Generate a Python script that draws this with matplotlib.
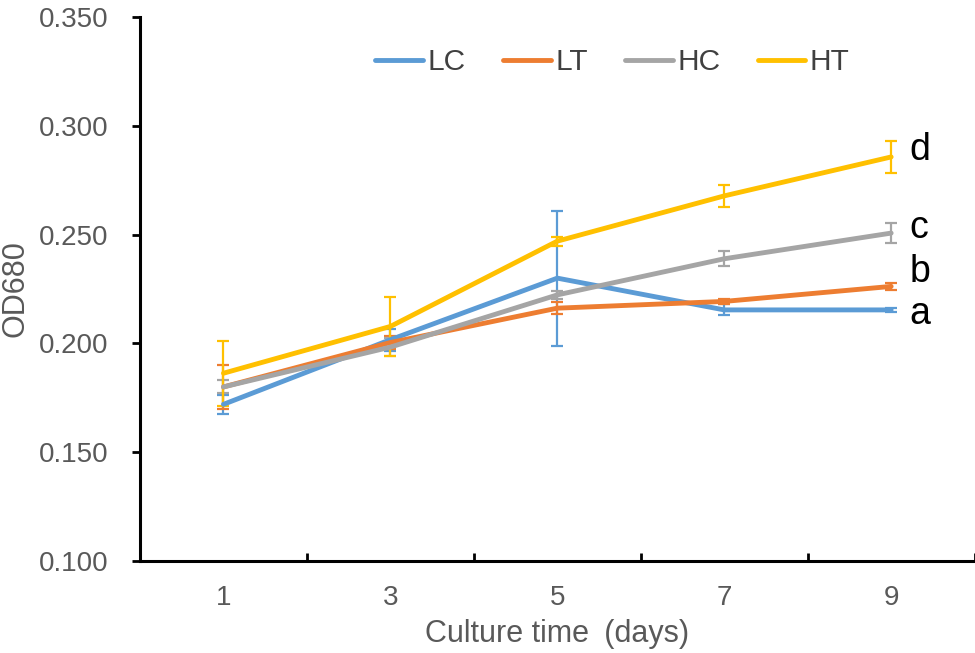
import numpy as np
import matplotlib.pyplot as plt
from matplotlib.lines import Line2D

plt.rcParams['font.family'] = ['Liberation Sans', 'DejaVu Sans']

days = ['1', '3', '5', '7', '9']
series = ['LC', 'LT', 'HC', 'HT']
colors = ['#5B9BD5', '#ED7D31', '#A5A5A5', '#FFC000']

lc = [0.172, 0.2017, 0.230, 0.2154, 0.2154]
lt = [0.180, 0.2004, 0.2162, 0.2193, 0.2262]
hc = [0.180, 0.1983, 0.2223, 0.2389, 0.2507]
ht = [0.1863, 0.2078, 0.2470, 0.2678, 0.2857]

lc_err = [0.0045, 0.0050, 0.0310, 0.0025, 0.0010]
lt_err = [0.0100, 0.0030, 0.0027, 0.0010, 0.0015]
hc_err = [0.0030, 0.0040, 0.0020, 0.0035, 0.0045]
ht_err = [0.0150, 0.0137, 0.0020, 0.0050, 0.0074]

sig_letters = ['a', 'b', 'c', 'd']
sig_y = [0.2133, 0.2330, 0.2531, 0.2890]

values = [lc, lt, hc, ht]
errors = [lc_err, lt_err, hc_err, ht_err]

fig = plt.figure(figsize=(9.75, 6.53), dpi=100)
ax = fig.add_axes([0.1436, 0.1409, 0.856, 0.833])

x = np.arange(len(days)) + 0.5
for name, vals, errs, c in zip(series, values, errors, colors):
    ax.errorbar(x, vals, yerr=errs, color=c, lw=3.5, elinewidth=1.6,
                capsize=4.5, capthick=1.6, solid_capstyle='round')

for letter, yy in zip(sig_letters, sig_y):
    ax.text(4.61, yy, letter, fontsize=27, va='center', ha='left', color='black')

ax.set_xlim(0, 5)
ax.set_ylim(0.100, 0.350)
ax.set_yticks(np.arange(0.100, 0.351, 0.050))
ax.set_yticklabels(['%.3f' % v for v in np.arange(0.100, 0.351, 0.050)])
ax.set_xticks(x)
ax.set_xticklabels(days)
ax.set_xticks(np.arange(0, 6), minor=True)

ax.spines['top'].set_visible(False)
ax.spines['right'].set_visible(False)
ax.spines['left'].set_linewidth(2.2)
ax.spines['bottom'].set_linewidth(2.2)

ax.tick_params(axis='x', which='major', length=0, pad=17, labelsize=20, labelcolor='#595959')
ax.tick_params(axis='x', which='minor', direction='in', length=6, width=2)
ax.tick_params(axis='y', direction='out', length=6, width=2, pad=17, labelsize=20, labelcolor='#595959')

ax.set_xlabel('Culture time\u2002(days)', fontsize=22, color='#595959', labelpad=6)
ax.set_ylabel('OD680', fontsize=22, color='#595959', labelpad=6)

handles = [Line2D([], [], color=c, lw=3.5, solid_capstyle='round') for c in colors]
leg = ax.legend(handles, series, loc='center', bbox_to_anchor=(0.566, 0.917), ncol=4,
                frameon=False, fontsize=21.5, handlelength=1.6, handletextpad=0.15,
                columnspacing=1.25)
for t in leg.get_texts():
    t.set_color('#404040')

fig.savefig('out.png', dpi=100)
